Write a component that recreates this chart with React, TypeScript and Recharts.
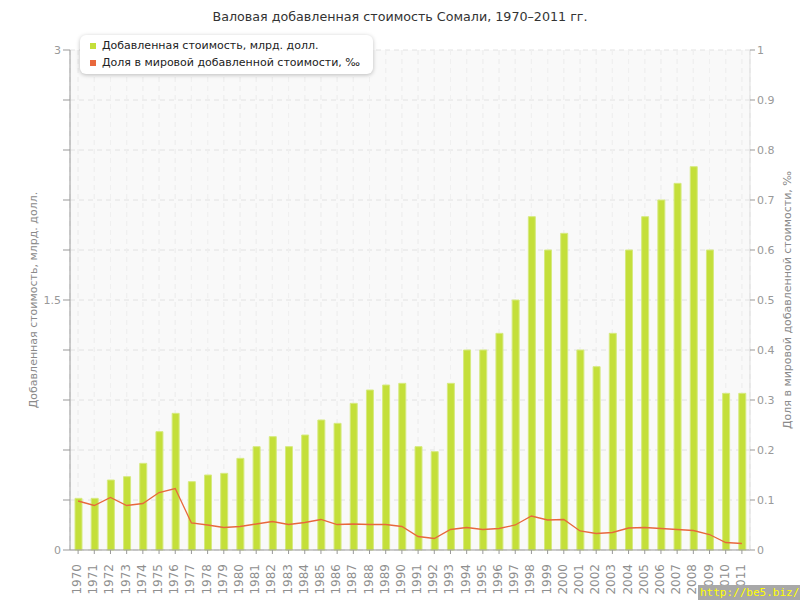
import React from 'react';
import { ComposedChart, Bar, Line, XAxis, YAxis, CartesianGrid } from 'recharts';

const years = ['1970','1971','1972','1973','1974','1975','1976','1977','1978','1979','1980','1981','1982','1983','1984','1985','1986','1987','1988','1989','1990','1991','1992','1993','1994','1995','1996','1997','1998','1999','2000','2001','2002','2003','2004','2005','2006','2007','2008','2009','2010','2011'];
const valueAdded = [0.31,0.31,0.42,0.44,0.52,0.71,0.82,0.41,0.45,0.46,0.55,0.62,0.68,0.62,0.69,0.78,0.76,0.88,0.96,0.99,1.0,0.62,0.59,1.0,1.2,1.2,1.3,1.5,2.0,1.8,1.9,1.2,1.1,1.3,1.8,2.0,2.1,2.2,2.3,1.8,0.94,0.94];
const worldShare = [0.098,0.089,0.105,0.089,0.093,0.115,0.123,0.054,0.050,0.045,0.047,0.052,0.057,0.051,0.055,0.061,0.051,0.052,0.051,0.051,0.047,0.027,0.023,0.041,0.045,0.041,0.043,0.050,0.068,0.060,0.061,0.038,0.033,0.035,0.044,0.045,0.043,0.041,0.039,0.031,0.015,0.013];
const leftTicks = [0,0.3,0.6,0.9,1.2,1.5,1.8,2.1,2.4,2.7,3];
const leftLabeled = [0,1.5,3];
const rightTicks = [0,0.1,0.2,0.3,0.4,0.5,0.6,0.7,0.8,0.9,1];

const title = 'Валовая добавленная стоимость Сомали, 1970–2011 гг.';
const seriesNames = ['Добавленная стоимость, млрд. долл.', 'Доля в мировой добавленной стоимости, ‰'];
const colors = ['#c4df3a', '#e8683c'];

const data = years.map((y, i) => ({ year: y, va: valueAdded[i], share: worldShare[i] }));

const FONT = '"DejaVu Sans", Verdana, sans-serif';

const XTick = (props: any) => {
  const { x, y, payload } = props;
  return (
    <g transform={`translate(${x},${y})`}>
      <text transform="rotate(-90)" x={-8} y={3} textAnchor="end" fontSize={12} fill="#8f8f8f" fontFamily={FONT}>
        {payload.value}
      </text>
    </g>
  );
};

const LegendBox = () => (
  <div style={{
    position: 'absolute', left: 80, top: 35,
    background: '#fff', borderRadius: 6, boxShadow: '0 1px 4px rgba(0,0,0,0.25)',
    padding: '2px 10px 3px 10px', fontFamily: FONT, fontSize: 11, color: '#222', width: 273, boxSizing: 'content-box',
  }}>
    {seriesNames.map((n, i) => (
      <div key={n} style={{ display: 'flex', alignItems: 'center', height: 17 }}>
        <span style={{ display: 'inline-block', width: 6, height: 6, background: colors[i], marginRight: 6 }} />
        <span>{n}</span>
      </div>
    ))}
  </div>
);

const AxisTitle = (props: any) => {
  const { viewBox, value, dx } = props;
  const cx = viewBox.x + dx;
  const cy = viewBox.y + viewBox.height / 2;
  return (
    <text x={cx} y={cy} transform={`rotate(-90 ${cx} ${cy})`} textAnchor="middle" dominantBaseline="central" fontSize={11} fill="#8a8a8a" fontFamily={FONT}>
      {value}
    </text>
  );
};

export default function App() {
  return (
    <div style={{ position: 'absolute', left: 0, top: 0, width: 800, height: 600, background: '#fff', fontFamily: FONT }}>
      <div style={{ position: 'absolute', left: 0, top: 9, width: 800, textAlign: 'center', fontSize: 12.7, color: '#333' }}>{title}</div>
      <ComposedChart width={800} height={600} data={data} margin={{ top: 50, right: 0, bottom: 0, left: 0 }} barCategoryGap={0}>
        <CartesianGrid yAxisId="left" stroke="#e2e2e2" strokeDasharray="5 4" fill="#f9f9f9" />
        <XAxis dataKey="year" height={50} tick={<XTick />} tickLine={{ stroke: '#999' }} tickSize={4} axisLine={{ stroke: '#999' }} interval={0} />
        <YAxis yAxisId="left" width={70} domain={[0, 3]} ticks={leftTicks} interval={0}
          tickFormatter={(v: number) => (leftLabeled.includes(v) ? String(v) : '')}
          tick={{ fontSize: 11, fill: '#999', fontFamily: FONT }} tickLine={{ stroke: '#999' }} tickSize={7}
          axisLine={{ stroke: '#999' }}
          label={<AxisTitle value={seriesNames[0]} dx={33} />} />
        <YAxis yAxisId="right" orientation="right" width={50} domain={[0, 1]} ticks={rightTicks} interval={0}
          tickFormatter={(v: number) => String(v)}
          tick={{ fontSize: 11, fill: '#999', fontFamily: FONT }} tickLine={{ stroke: '#999' }} tickSize={5}
          axisLine={{ stroke: '#ddd' }}
          label={<AxisTitle value={seriesNames[1]} dx={37} />} />
        <Bar yAxisId="left" dataKey="va" name={seriesNames[0]} fill={colors[0]} stroke="#d6ea80" strokeWidth={1} barSize={7} isAnimationActive={false} />
        <Line yAxisId="right" dataKey="share" name={seriesNames[1]} stroke={colors[1]} strokeWidth={1.3} dot={false} type="linear" isAnimationActive={false} />
        <CartesianGrid yAxisId="left" horizontal={false} stroke="#ffffff" strokeOpacity={0.5} strokeDasharray="5 4" fill="none" />
      </ComposedChart>
      <LegendBox />
      <div style={{ position: 'absolute', left: 698, top: 585, width: 102, height: 15, background: '#a8a8a8', color: '#ffff00', fontFamily: '"DejaVu Sans Mono", monospace', fontSize: 11, lineHeight: '15px', paddingLeft: 2, boxSizing: 'border-box', whiteSpace: 'nowrap' }}>http://be5.biz/</div>
    </div>
  );
}
